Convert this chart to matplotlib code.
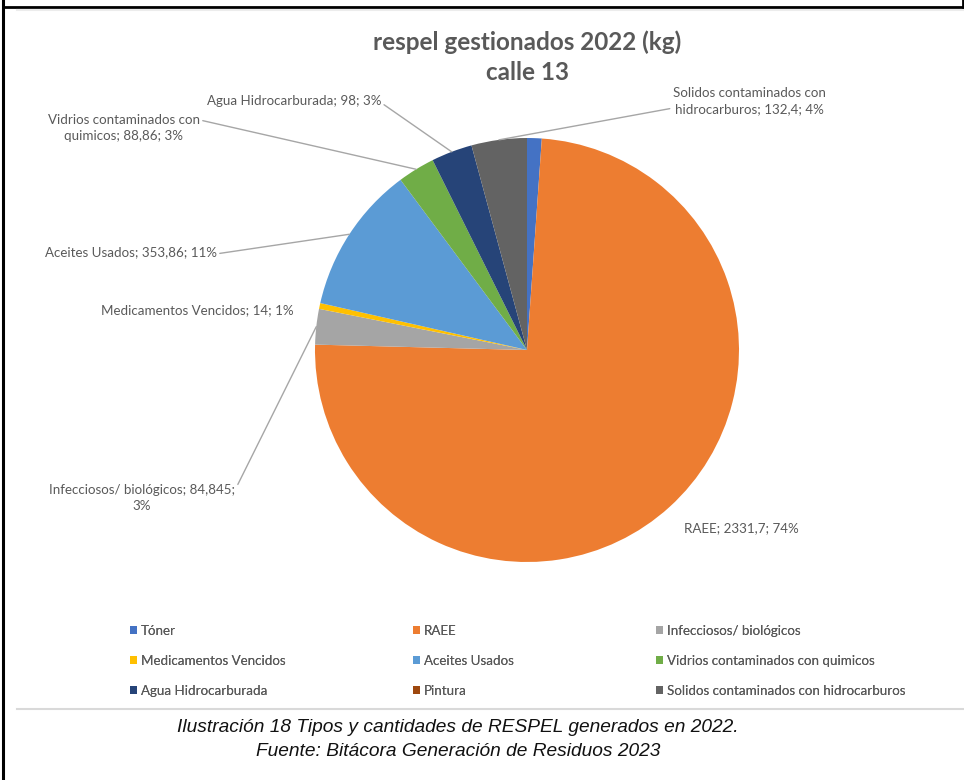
import numpy as np
import matplotlib
matplotlib.use("Agg")
import matplotlib.pyplot as plt
from matplotlib.patches import Patch
from matplotlib.lines import Line2D

# data (kg), clockwise from 12 o'clock
categories = ["Tóner", "RAEE", "Infecciosos/ biológicos", "Medicamentos Vencidos",
              "Aceites Usados", "Vidrios contaminados con quimicos",
              "Agua Hidrocarburada", "Pintura",
              "Solidos contaminados con hidrocarburos"]
values = [35, 2331.7, 84.845, 14, 353.86, 88.86, 98, 0, 132.4]
pct_labels = ["1%", "74%", "3%", "1%", "11%", "3%", "3%", "0%", "4%"]
colors = ["#4472C4", "#ED7D31", "#A5A5A5", "#FFC000", "#5B9BD5",
          "#70AD47", "#264478", "#9E480E", "#636363"]

W, H = 964, 780
TXT = "#595959"


def px(x, y):
    # top-left pixel -> figure fraction
    return x / W, 1 - y / H


def fmt(v):
    return ("%g" % v).replace(".", ",")


def main():
    plt.rcParams['font.family'] = ["Lato", "DejaVu Sans"]

    fig = plt.figure(figsize=(W / 100, H / 100), dpi=100)
    fig.patch.set_facecolor("white")

    # pie axes, centre (527, 350) px, radius 212 px
    cx, cy, r = 527, 350, 212
    ax = fig.add_axes([(cx - r) / W, (H - cy - r) / H, 2 * r / W, 2 * r / H])
    wedges, _ = ax.pie(values, colors=colors, startangle=90, counterclock=False,
                       radius=1, wedgeprops=dict(linewidth=0))
    ax.set_xlim(-1, 1)
    ax.set_ylim(-1, 1)
    ax.axis("off")

    # label placement: index -> (x, y, relpos of leader start or None)
    label_pos = {
        6: (294, 101, (1, 0.35), "%s; %s; %s"),
        5: (124, 128, (1, 0.78), "Vidrios contaminados con\nquimicos; %s; %s"),
        4: (131, 252, (1, 0.35), "%s; %s; %s"),
        3: (197, 310, None, "%s; %s; %s"),
        2: (142, 498, (1, 0.78), "Infecciosos/ biológicos; %s;\n%s"),
        8: (749, 101, (0, 0.25), "Solidos contaminados con\nhidrocarburos; %s; %s"),
        1: (741, 528, None, "%s; %s; %s"),
    }
    for i, (x, y, rel, tmpl) in label_pos.items():
        if tmpl.count("%s") == 3:
            s = tmpl % (categories[i], fmt(values[i]), pct_labels[i])
        else:
            s = tmpl % (fmt(values[i]), pct_labels[i])
        w = wedges[i]
        mid = np.deg2rad((w.theta1 + w.theta2) / 2)
        xy = (np.cos(mid), np.sin(mid))
        kw = dict(ha="center", va="center", multialignment="center",
                  fontsize=9.6, color=TXT, linespacing=1.45)
        if rel is None:
            fig.text(*px(x, y), s, **kw)
        else:
            ax.annotate(s, xy=xy, xycoords="data", xytext=px(x, y),
                        textcoords="figure fraction", annotation_clip=False,
                        arrowprops=dict(arrowstyle="-", color="#a6a6a6", lw=1,
                                        shrinkA=0, shrinkB=0, relpos=rel),
                        **kw)

    fig.text(*px(527, 42), "respel gestionados 2022 (kg)", ha="center",
             va="center", fontsize=17.5, fontweight="bold", color=TXT)
    fig.text(*px(527, 73), "calle 13", ha="center", va="center",
             fontsize=17.5, fontweight="bold", color=TXT)

    # legend, Excel fills rows first: one small legend per column
    handles = [Patch(facecolor=c, edgecolor="none") for c in colors]
    col_x = [118, 401, 644]
    for j, x0 in enumerate(col_x):
        idx = [j, j + 3, j + 6]
        leg = fig.legend([handles[k] for k in idx], [categories[k] for k in idx],
                         loc="upper left", bbox_to_anchor=px(x0, 613),
                         frameon=False, fontsize=9.6, labelcolor=TXT,
                         handlelength=0.55, handleheight=0.55,
                         handletextpad=0.25, labelspacing=1.35)
        fig.add_artist(leg)

    # caption
    fig.text(*px(458, 728), "Ilustración 18 Tipos y cantidades de RESPEL generados en 2022.",
             ha="center", va="center", fontsize=13.8, style="italic",
             family="Liberation Sans", color="#111111")
    fig.text(*px(458, 752), "Fuente: Bitácora Generación de Residuos 2023",
             ha="center", va="center", fontsize=13.8, style="italic",
             family="Liberation Sans", color="#111111")

    # document frame lines
    fig.add_artist(Line2D([3 / W, 3 / W], [0, 1], color="black", lw=2.2))
    fig.add_artist(Line2D([3 / W, 963 / W], [1 - 6.5 / H] * 2, color="black", lw=2))
    fig.add_artist(Line2D([963 / W, 963 / W], [1 - 7 / H, 1], color="black", lw=2))
    fig.add_artist(Line2D([17 / W, 1], [1 - 9.5 / H] * 2, color="#ececec", lw=1.5))
    fig.add_artist(Line2D([17 / W, 1], [1 - 709 / H] * 2, color="#d9d9d9", lw=1.5))

    fig.savefig("out.png", dpi=100)


if __name__ == "__main__":
    main()
